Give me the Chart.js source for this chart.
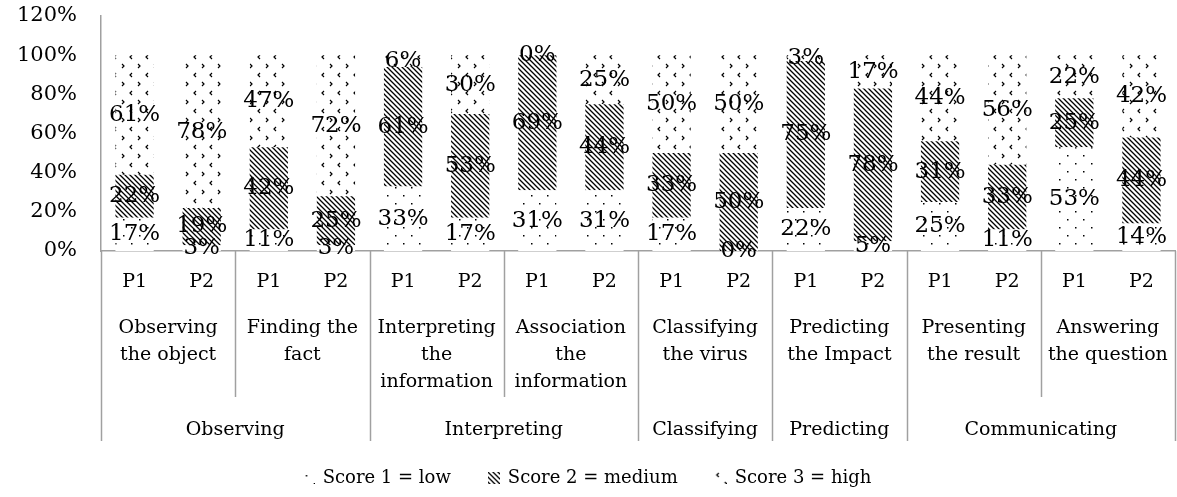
<!DOCTYPE html>
<html>
  <head>
    <script src="https://cdn.jsdelivr.net/npm/chart.js@4.4.1/dist/chart.umd.min.js"></script>
    <style>
      html, body { margin: 0; padding: 0; background: #fff; }
    </style>
  </head>

  <body>
    <canvas id="canvas" width="1177" height="497"></canvas>
    <script>
      const barLabels = ['P1', 'P2', 'P1', 'P2', 'P1', 'P2', 'P1', 'P2',
                         'P1', 'P2', 'P1', 'P2', 'P1', 'P2', 'P1', 'P2'];
      const subCategories = [
        ['Observing', 'the object'],
        ['Finding the', 'fact'],
        ['Interpreting', 'the', 'information'],
        ['Association', 'the', 'information'],
        ['Classifying', 'the virus'],
        ['Predicting', 'the Impact'],
        ['Presenting', 'the result'],
        ['Answering', 'the question'],
      ];
      const groups = ['Observing', 'Interpreting', 'Classifying', 'Predicting', 'Communicating'];
      const groupSizes = [2, 2, 1, 1, 2];

      const scoreLow = [17, 3, 11, 3, 33, 17, 31, 31, 17, 0, 22, 5, 25, 11, 53, 14];
      const scoreMedium = [22, 19, 42, 25, 61, 53, 69, 44, 33, 50, 75, 78, 31, 33, 25, 44];
      const scoreHigh = [61, 78, 47, 72, 6, 30, 0, 25, 50, 50, 3, 17, 44, 56, 22, 42];

      const canvas = document.getElementById('canvas');
      const ctx = canvas.getContext('2d');
      const lineColor = '#a0a0a0';

      function makeTile(w, h, draw) {
        const tile = document.createElement('canvas');
        tile.width = w;
        tile.height = h;
        const t = tile.getContext('2d');
        t.fillStyle = '#fff';
        t.fillRect(0, 0, w, h);
        t.fillStyle = '#000';
        t.strokeStyle = '#000';
        draw(t);
        return tile;
      }

      // small legend swatch cut from a pattern
      function makeIcon(pattern) {
        const icon = document.createElement('canvas');
        icon.width = 12;
        icon.height = 12;
        const t = icon.getContext('2d');
        t.fillStyle = pattern;
        t.fillRect(0, 0, 12, 12);
        return icon;
      }

      // sparse dots
      const lowTile = makeTile(16, 16, (t) => {
        t.fillRect(3, 3, 1.5, 1.5);
        t.fillRect(11, 11, 1.5, 1.5);
      });
      // dense diagonal stripes
      const mediumTile = makeTile(5, 5, (t) => {
        t.lineWidth = 1.3;
        t.beginPath();
        t.moveTo(-1, -1); t.lineTo(6, 6);
        t.moveTo(-1, 4); t.lineTo(1, 6);
        t.moveTo(4, -1); t.lineTo(6, 1);
        t.stroke();
      });
      // little chevrons
      const highTile = makeTile(16, 18, (t) => {
        t.lineWidth = 1.2;
        t.beginPath();
        t.moveTo(4, 1); t.lineTo(2, 3); t.lineTo(4, 5);
        t.moveTo(10, 10); t.lineTo(12, 12); t.lineTo(10, 14);
        t.stroke();
      });

      const lowPattern = ctx.createPattern(lowTile, 'repeat');
      const mediumPattern = ctx.createPattern(mediumTile, 'repeat');
      const highPattern = ctx.createPattern(highTile, 'repeat');
      const legendIcons = [makeIcon(lowPattern), makeIcon(mediumPattern), makeIcon(highPattern)];

      Chart.defaults.font.family = '"DejaVu Serif"';
      Chart.defaults.color = '#000';

      const valueLabels = {
        id: 'valueLabels',
        afterDatasetsDraw(chart) {
          const c = chart.ctx;
          c.save();
          c.font = '23px "DejaVu Serif"';
          c.fillStyle = '#000';
          c.textAlign = 'center';
          c.textBaseline = 'middle';
          chart.data.datasets.forEach((ds, i) => {
            chart.getDatasetMeta(i).data.forEach((bar, j) => {
              c.fillText(ds.data[j] + '%', bar.x, (bar.y + bar.base) / 2);
            });
          });
          c.restore();
        },
      };

      const categoryAxis = {
        id: 'categoryAxis',
        afterDraw(chart) {
          const c = chart.ctx;
          const area = chart.chartArea;
          const x = chart.scales.x;
          const slot = x.getPixelForValue(1) - x.getPixelForValue(0);
          const edge = (k) => x.getPixelForValue(0) - slot / 2 + 2 * k * slot;
          const bottom = area.bottom;

          const groupEdges = [0];
          groupSizes.forEach((n) => groupEdges.push(groupEdges[groupEdges.length - 1] + n));

          c.save();
          c.strokeStyle = lineColor;
          c.lineWidth = 1.5;
          for (let k = 0; k <= subCategories.length; k++) {
            const long = groupEdges.includes(k);
            const px = Math.round(edge(k)) + 0.5;
            c.beginPath();
            c.moveTo(px, bottom);
            c.lineTo(px, long ? bottom + 190 : bottom + 146);
            c.stroke();
          }

          c.fillStyle = '#000';
          c.textAlign = 'center';
          c.textBaseline = 'middle';
          c.font = '19px "DejaVu Serif"';
          subCategories.forEach((lines, k) => {
            const cx = (edge(k) + edge(k + 1)) / 2;
            lines.forEach((line, l) => {
              c.fillText(line, cx, bottom + 77 + l * 27);
            });
          });
          groups.forEach((g, i) => {
            const cx = (edge(groupEdges[i]) + edge(groupEdges[i + 1])) / 2;
            c.fillText(g, cx, bottom + 179);
          });
          c.restore();
        },
      };

      const chart = new Chart(ctx, {
        type: 'bar',
        data: {
          labels: barLabels,
          datasets: [
            { label: 'Score 1 = low', data: scoreLow, backgroundColor: lowPattern, borderWidth: 0 },
            { label: 'Score 2 = medium', data: scoreMedium, backgroundColor: mediumPattern, borderWidth: 0 },
            { label: 'Score 3 = high', data: scoreHigh, backgroundColor: highPattern, borderWidth: 0 },
          ],
        },
        options: {
          responsive: false,
          animation: false,
          layout: { padding: { top: 16, right: 2, left: 0, bottom: 0 } },
          datasets: {
            bar: { barPercentage: 0.57, categoryPercentage: 1 },
          },
          scales: {
            x: {
              stacked: true,
              grid: { display: false, drawTicks: false },
              border: { display: true, color: lineColor, width: 1.5 },
              ticks: { font: { size: 19 }, padding: 20, maxRotation: 0, autoSkip: false },
              afterFit: (scale) => { scale.height = 180; },
            },
            y: {
              stacked: true,
              min: 0,
              max: 120,
              grid: { display: false, drawTicks: false },
              border: { display: true, color: lineColor, width: 1.5 },
              ticks: { stepSize: 20, font: { size: 21 }, padding: 24, callback: (v) => v + '%' },
              afterFit: (scale) => {
                scale.width = 101;
                scale.paddingTop = 0;
                scale.paddingBottom = 0;
              },
            },
          },
          plugins: {
            legend: {
              position: 'bottom',
              labels: {
                usePointStyle: true,
                boxWidth: 10,
                boxHeight: 10,
                padding: 38,
                font: { size: 18 },
                generateLabels: (chart) => {
                  const items = Chart.defaults.plugins.legend.labels.generateLabels(chart);
                  items.forEach((item, i) => { item.pointStyle = legendIcons[i]; });
                  return items;
                },
              },
            },
            tooltip: { enabled: false },
          },
        },
        plugins: [valueLabels, categoryAxis],
      });
    </script>
  </body>
</html>
